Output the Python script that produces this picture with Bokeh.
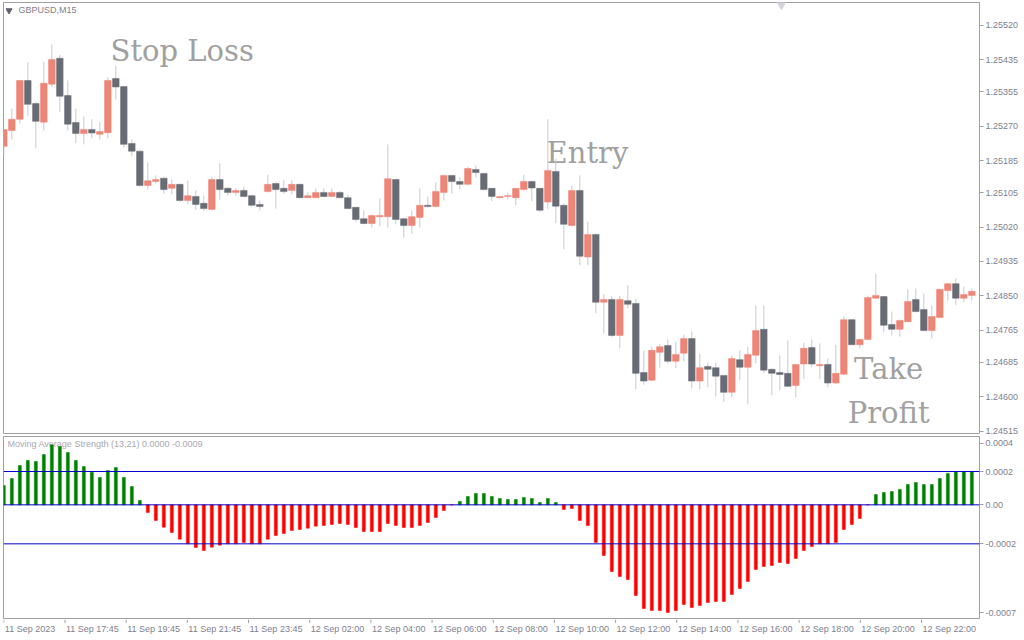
from bokeh.plotting import figure
from bokeh.layouts import column
from bokeh.models import (ColumnDataSource, FixedTicker, Span, Range1d, PrintfTickFormatter,
                          GlobalInlineStyleSheet)
from bokeh.core.properties import value
from bokeh.embed import file_html
from bokeh.resources import INLINE

# ---------------- data (GBPUSD M15) ----------------
opens = [1.25220, 1.25259, 1.25287, 1.25383, 1.25326, 1.25280, 1.25374, 1.25438, 1.25346, 1.25279,
         1.25252, 1.25262, 1.25250, 1.25254, 1.25388, 1.25368, 1.25227, 1.25208, 1.25123, 1.25133,
         1.25141, 1.25116, 1.25126, 1.25086, 1.25096, 1.25079, 1.25064, 1.25138, 1.25116, 1.25106,
         1.25111, 1.25098, 1.25076, 1.25108, 1.25128, 1.25116, 1.25111, 1.25126, 1.25093, 1.25093,
         1.25106, 1.25096, 1.25106, 1.25093, 1.25069, 1.25041, 1.25029, 1.25046, 1.25046, 1.25138,
         1.25041, 1.25024, 1.25044, 1.25074, 1.25071, 1.25106, 1.25148, 1.25133, 1.25126, 1.25163,
         1.25153, 1.25116, 1.25093, 1.25096, 1.25093, 1.25113, 1.25133, 1.25116, 1.25082, 1.25158,
         1.25074, 1.25024, 1.25111, 1.24946, 1.25002, 1.24834, 1.24841, 1.24752, 1.24838, 1.24831,
         1.24660, 1.24641, 1.24710, 1.24727, 1.24688, 1.24708, 1.24744, 1.24639, 1.24675, 1.24672,
         1.24653, 1.24611, 1.24692, 1.24673, 1.24703, 1.24767, 1.24668, 1.24660, 1.24658, 1.24628,
         1.24681, 1.24722, 1.24677, 1.24680, 1.24634, 1.24656, 1.24791, 1.24729, 1.24742, 1.24844,
         1.24848, 1.24779, 1.24767, 1.24786, 1.24841, 1.24816, 1.24764, 1.24796, 1.24863, 1.24880,
         1.24844, 1.24851]
highs = [1.25263, 1.25313, 1.25385, 1.25428, 1.25329, 1.25430, 1.25472, 1.25447, 1.25383, 1.25313,
         1.25294, 1.25287, 1.25280, 1.25391, 1.25420, 1.25370, 1.25237, 1.25210, 1.25180, 1.25148,
         1.25145, 1.25138, 1.25127, 1.25135, 1.25111, 1.25098, 1.25145, 1.25178, 1.25119, 1.25116,
         1.25121, 1.25100, 1.25086, 1.25150, 1.25131, 1.25136, 1.25136, 1.25127, 1.25106, 1.25116,
         1.25116, 1.25116, 1.25109, 1.25101, 1.25070, 1.25061, 1.25051, 1.25091, 1.25225, 1.25140,
         1.25043, 1.25061, 1.25116, 1.25096, 1.25131, 1.25150, 1.25150, 1.25143, 1.25170, 1.25173,
         1.25154, 1.25117, 1.25097, 1.25106, 1.25117, 1.25150, 1.25135, 1.25117, 1.25287, 1.25189,
         1.25079, 1.25123, 1.25148, 1.25034, 1.25003, 1.24854, 1.24850, 1.24850, 1.24876, 1.24843,
         1.24715, 1.24724, 1.24731, 1.24742, 1.24737, 1.24754, 1.24762, 1.24707, 1.24685, 1.24685,
         1.24653, 1.24702, 1.24715, 1.24724, 1.24826, 1.24826, 1.24670, 1.24702, 1.24739, 1.24680,
         1.24734, 1.24742, 1.24732, 1.24695, 1.24729, 1.24799, 1.24793, 1.24742, 1.24851, 1.24905,
         1.24850, 1.24811, 1.24791, 1.24866, 1.24868, 1.24856, 1.24826, 1.24867, 1.24882, 1.24893,
         1.24873, 1.24868]
lows = [1.25193, 1.25237, 1.25277, 1.25296, 1.25216, 1.25259, 1.25367, 1.25305, 1.25259, 1.25228,
        1.25225, 1.25240, 1.25237, 1.25240, 1.25336, 1.25218, 1.25196, 1.25121, 1.25113, 1.25127,
        1.25103, 1.25101, 1.25083, 1.25076, 1.25062, 1.25061, 1.25061, 1.25088, 1.25098, 1.25098,
        1.25094, 1.25071, 1.25061, 1.25106, 1.25066, 1.25103, 1.25101, 1.25091, 1.25092, 1.25092,
        1.25094, 1.25094, 1.25092, 1.25065, 1.25032, 1.25027, 1.25019, 1.25022, 1.25019, 1.25027,
        1.24994, 1.25004, 1.25019, 1.25069, 1.25069, 1.25086, 1.25103, 1.25113, 1.25123, 1.25143,
        1.25111, 1.25084, 1.25091, 1.25088, 1.25074, 1.25111, 1.25084, 1.25057, 1.25065, 1.25030,
        1.24965, 1.25022, 1.24926, 1.24926, 1.24807, 1.24757, 1.24748, 1.24720, 1.24819, 1.24619,
        1.24630, 1.24639, 1.24672, 1.24683, 1.24671, 1.24688, 1.24621, 1.24619, 1.24624, 1.24601,
        1.24587, 1.24599, 1.24641, 1.24582, 1.24683, 1.24658, 1.24604, 1.24616, 1.24624, 1.24599,
        1.24644, 1.24673, 1.24644, 1.24624, 1.24632, 1.24654, 1.24728, 1.24720, 1.24740, 1.24843,
        1.24760, 1.24752, 1.24749, 1.24785, 1.24809, 1.24762, 1.24744, 1.24795, 1.24838, 1.24827,
        1.24834, 1.24838]
closes = [1.25262, 1.25287, 1.25383, 1.25324, 1.25282, 1.25376, 1.25435, 1.25344, 1.25275, 1.25252,
          1.25262, 1.25253, 1.25257, 1.25383, 1.25367, 1.25225, 1.25208, 1.25123, 1.25135, 1.25138,
          1.25113, 1.25126, 1.25086, 1.25098, 1.25076, 1.25066, 1.25138, 1.25113, 1.25106, 1.25111,
          1.25096, 1.25074, 1.25071, 1.25126, 1.25113, 1.25108, 1.25126, 1.25093, 1.25098, 1.25106,
          1.25096, 1.25106, 1.25093, 1.25066, 1.25039, 1.25029, 1.25049, 1.25049, 1.25140, 1.25039,
          1.25024, 1.25046, 1.25074, 1.25071, 1.25108, 1.25148, 1.25133, 1.25126, 1.25165, 1.25155,
          1.25113, 1.25096, 1.25096, 1.25098, 1.25116, 1.25133, 1.25117, 1.25062, 1.25160, 1.25072,
          1.25027, 1.25111, 1.24948, 1.25002, 1.24834, 1.24841, 1.24752, 1.24841, 1.24829, 1.24658,
          1.24639, 1.24715, 1.24724, 1.24688, 1.24705, 1.24744, 1.24639, 1.24672, 1.24668, 1.24651,
          1.24611, 1.24695, 1.24673, 1.24705, 1.24764, 1.24666, 1.24658, 1.24655, 1.24626, 1.24680,
          1.24720, 1.24681, 1.24680, 1.24634, 1.24658, 1.24791, 1.24729, 1.24742, 1.24846, 1.24851,
          1.24777, 1.24767, 1.24789, 1.24836, 1.24811, 1.24764, 1.24799, 1.24866, 1.24880, 1.24844,
          1.24853, 1.24861]

# Moving Average Strength (13,21) histogram
mas = [0.000116, 0.000158, 0.000236, 0.000266, 0.000260, 0.000302, 0.000360, 0.000350, 0.000314, 0.000266,
       0.000230, 0.000196, 0.000164, 0.000206, 0.000224, 0.000164, 0.000110, 0.000026,
       -0.000046, -0.000094, -0.000134, -0.000166, -0.000206, -0.000234, -0.000256, -0.000274, -0.000254,
       -0.000242, -0.000234, -0.000234, -0.000226, -0.000234, -0.000234, -0.000206, -0.000184, -0.000172,
       -0.000154, -0.000148, -0.000140, -0.000128, -0.000124, -0.000118, -0.000112, -0.000118, -0.000136,
       -0.000160, -0.000160, -0.000160, -0.000112, -0.000124, -0.000136, -0.000136, -0.000124, -0.000106,
       -0.000076, -0.000034,
       0.0, 0.000020, 0.000050, 0.000068, 0.000068,
       0.000050, 0.000038, 0.000032, 0.000032, 0.000044, 0.000038, 0.000014, 0.000038, 0.000014,
       -0.000028, -0.000022, -0.000094, -0.000124, -0.000226, -0.000304, -0.000400, -0.000430, -0.000448,
       -0.000544, -0.000622, -0.000634, -0.000634, -0.000646, -0.000634, -0.000598, -0.000616, -0.000604,
       -0.000586, -0.000580, -0.000580, -0.000538, -0.000502, -0.000460, -0.000388, -0.000370, -0.000364,
       -0.000346, -0.000352, -0.000322, -0.000274, -0.000250, -0.000234, -0.000234, -0.000226, -0.000148,
       -0.000118, -0.000082,
       0.0,
       0.000062, 0.000074, 0.000080, 0.000092, 0.000122, 0.000134, 0.000122, 0.000122, 0.000158, 0.000188,
       0.000200, 0.000200, 0.000200]
levels = [0.0002, 0.0, -0.000234]

price_ticks = [1.25520, 1.25435, 1.25355, 1.25270, 1.25185, 1.25105, 1.25020,
               1.24935, 1.24850, 1.24765, 1.24685, 1.24600, 1.24515]
ind_ticks = [0.00037, 0.0002, 0.0, -0.000234, -0.000646]
ind_labels = ["0.0004", "0.0002", "0.00", "-0.0002", "-0.0007"]
time_labels = ["11 Sep 2023", "11 Sep 17:45", "11 Sep 19:45", "11 Sep 21:45", "11 Sep 23:45",
               "12 Sep 02:00", "12 Sep 04:00", "12 Sep 06:00", "12 Sep 08:00", "12 Sep 10:00",
               "12 Sep 12:00", "12 Sep 14:00", "12 Sep 16:00", "12 Sep 18:00", "12 Sep 20:00",
               "12 Sep 22:00"]
bars_per_label = 8

# ---------------- styling ----------------
BULL = "#ee8576"
BEAR = "#686c74"
WICK = "#c8c8d2"
FRAME = "#a0a0a0"
AXTXT = "#80808e"
NOTE = "#a0a0a0"
FONT = "Liberation Sans"

n = len(opens)
idx = list(range(n))
src = ColumnDataSource(dict(
    x=idx, h=highs, l=lows,
    top=[max(o, c) for o, c in zip(opens, closes)],
    bot=[min(o, c) for o, c in zip(opens, closes)],
    color=[BULL if c >= o else BEAR for o, c in zip(opens, closes)],
))
hsrc = ColumnDataSource(dict(
    x=idx, v=mas, color=["#008000" if v > 0 else "#ff0000" for v in mas]))

X0, X1 = -0.04, 121.96          # visible bar-index window (8 px per bar)
xr = Range1d(X0, X1)

def style_axis(ax):
    ax.axis_line_color = None
    ax.major_tick_in = 0
    ax.major_tick_out = 4
    ax.minor_tick_in = 0
    ax.minor_tick_out = 0
    ax.major_tick_line_color = FRAME
    ax.major_label_text_font = FONT
    ax.major_label_text_font_size = "9px"
    ax.major_label_text_color = AXTXT
    ax.major_label_standoff = 2

# ---------------- main price panel ----------------
p = figure(width=1024, height=435, x_range=xr, y_range=Range1d(1.245091, 1.255762),
           output_backend="svg", toolbar_location=None, x_axis_location=None,
           y_axis_location="right", min_border_left=3, min_border_right=45,
           min_border_top=2, min_border_bottom=2)
p.grid.visible = False
p.outline_line_color = FRAME
p.background_fill_color = "white"
p.border_fill_color = "white"
pa = p.yaxis[0]
style_axis(pa)
pa.ticker = FixedTicker(ticks=price_ticks)
pa.formatter = PrintfTickFormatter(format="%.5f")

serif = value("DejaVu Serif")
p.text(x=[13.34], y=[1.254549], text=["Stop Loss"], text_font=serif, text_font_size="29px",
       text_color=NOTE, text_baseline="alphabetic", text_align="left")
p.text(x=[67.84], y=[1.252040], text=["Entry"], text_font=serif, text_font_size="29px",
       text_color=NOTE, text_baseline="alphabetic", text_align="left")
p.text(x=[110.6], y=[1.246692], text=["Take"], text_font=serif, text_font_size="29px",
       text_color=NOTE, text_baseline="alphabetic", text_align="center")
p.text(x=[110.6], y=[1.245610], text=["Profit"], text_font=serif, text_font_size="29px",
       text_color=NOTE, text_baseline="alphabetic", text_align="center")

p.segment(x0="x", y0="l", x1="x", y1="h", source=src, line_color=WICK, line_width=1)
p.vbar(x="x", top="top", bottom="bot", width=0.82, source=src, fill_color="color",
       line_color="color", line_width=0.5)

p.scatter(x=[0.65], y=[1.255564], marker="inverted_triangle", size=6,
          fill_color="#606070", line_color="#606070")
p.text(x=[1.84], y=[1.255564], text=["GBPUSD,M15"], text_font=value(FONT), text_font_size="9px",
       text_color=AXTXT, text_baseline="middle", text_align="left")
p.scatter(x=[97.2], y=[1.255713], marker="inverted_triangle", size=9,
          fill_color="#d4d4dc", line_color="#d4d4dc")

# ---------------- indicator panel ----------------
q = figure(width=1024, height=184, x_range=xr, y_range=Range1d(-0.000682, 0.00041),
           output_backend="svg", toolbar_location=None, y_axis_location="right",
           x_axis_location=None,
           min_border_left=3, min_border_right=45, min_border_top=1, min_border_bottom=1)
q.grid.visible = False
q.outline_line_color = FRAME
q.background_fill_color = "white"
q.border_fill_color = "white"
qa = q.yaxis[0]
style_axis(qa)
qa.ticker = FixedTicker(ticks=ind_ticks)
qa.major_label_overrides = {t: s for t, s in zip(ind_ticks, ind_labels)}

q.text(x=[0.46], y=[0.000368], text=["Moving Average Strength (13,21) 0.0000 -0.0009"],
       text_font=value(FONT), text_font_size="9px", text_color="#a8a8b2",
       text_baseline="middle", text_align="left")
for lv in levels:
    q.add_layout(Span(location=lv, dimension="width", line_color="#0000c8", line_width=1))
q.vbar(x="x", top="v", bottom=0, width=0.375, source=hsrc, fill_color="color",
       line_color="color", line_width=0.5)

# ---------------- time axis strip: tick marks + labels that start at their tick ----------------
xticks = [bars_per_label * k for k in range(len(time_labels))]
strip_w = 1024 - 3
s = figure(width=1024, height=21, x_range=Range1d(X0, X0 + strip_w / 8.0), y_range=Range1d(0, 21),
           output_backend="svg", toolbar_location=None, x_axis_location=None, y_axis_location=None,
           min_border_left=3, min_border_right=0, min_border_top=0, min_border_bottom=0)
s.grid.visible = False
s.outline_line_color = None
s.background_fill_color = "white"
s.border_fill_color = "white"
s.segment(x0=xticks, y0=[21] * len(xticks), x1=xticks, y1=[17.5] * len(xticks),
          line_color=FRAME, line_width=1)
s.text(x=xticks, y=[12] * len(xticks), text=time_labels, x_offset=1,
       text_font=value(FONT), text_font_size="9px", text_color=AXTXT,
       text_baseline="middle", text_align="left")

layout = column(p, q, s, spacing=0)
layout.stylesheets = [GlobalInlineStyleSheet(css="html, body { margin: 0; padding: 0; overflow: hidden; background: white; }")]

open("out.html", "w").write(file_html(layout, INLINE))
